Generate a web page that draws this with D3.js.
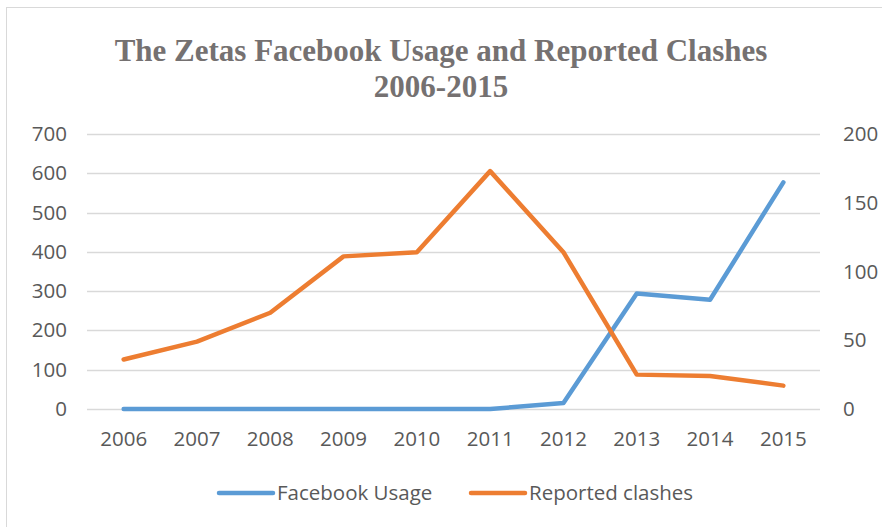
<!DOCTYPE html>
<html>
<head>
<meta charset="utf-8">
<title>The Zetas Facebook Usage and Reported Clashes</title>
<style>
  body { margin: 0; background: #fff; }
  .tick text { font-family: "Open Sans", "Liberation Sans", sans-serif; font-size: 20.5px; fill: #595959; }
  .title { font-family: "Liberation Serif", "DejaVu Serif", serif; font-weight: bold; font-size: 31px; fill: #757171; text-anchor: middle; }
  .legend text { font-family: "Open Sans", "Liberation Sans", sans-serif; font-size: 20.5px; fill: #595959; }
</style>
</head>
<body>
<svg width="882" height="527"></svg>
<script src="https://cdnjs.cloudflare.com/ajax/libs/d3/7.8.5/d3.min.js"></script>
<script>
var years = ["2006", "2007", "2008", "2009", "2010", "2011", "2012", "2013", "2014", "2015"];
var facebookUsage = [0, 0, 0, 0, 0, 0, 15, 294, 278, 577];
var reportedClashes = [36, 49, 70, 111, 114, 173, 114, 25, 24, 17];
var leftTicks = [0, 100, 200, 300, 400, 500, 600, 700];
var rightTicks = [0, 50, 100, 150, 200];

var svg = d3.select("svg");

// chart frame
svg.append("rect")
    .attr("x", 6.5).attr("y", 7.5)
    .attr("width", 882).attr("height", 530)
    .attr("fill", "#fff").attr("stroke", "#d9d9d9");

var margin = {left: 87, right: 62, top: 134, bottom: 118};
var width = 882 - margin.left - margin.right,
    height = 527 - margin.top - margin.bottom;

var x = d3.scaleBand().domain(years).range([0, width]);
var yLeft = d3.scaleLinear().domain([0, 700]).range([height, 0]);
var yRight = d3.scaleLinear().domain([0, 200]).range([height, 0]);

var g = svg.append("g").attr("transform", "translate(" + margin.left + "," + margin.top + ")");

// gridlines
g.selectAll(".grid")
    .data(leftTicks)
  .enter().append("line")
    .attr("x1", 0).attr("x2", width)
    .attr("y1", function(d) { return Math.round(yLeft(d)) + 0.5; })
    .attr("y2", function(d) { return Math.round(yLeft(d)) + 0.5; })
    .attr("stroke", "#d9d9d9").attr("stroke-width", 1.5);

var leftAxis = g.append("g")
    .call(d3.axisLeft(yLeft).tickValues(leftTicks).tickSize(0).tickPadding(20));
leftAxis.select(".domain").remove();

var rightAxis = g.append("g")
    .attr("transform", "translate(" + width + ",0)")
    .call(d3.axisRight(yRight).tickValues(rightTicks).tickSize(0).tickPadding(23));
rightAxis.select(".domain").remove();

var bottomAxis = g.append("g")
    .attr("transform", "translate(0," + height + ")")
    .call(d3.axisBottom(x).tickSize(0).tickPadding(22));
bottomAxis.select(".domain").remove();

var cx = function(d, i) { return x(years[i]) + x.bandwidth() / 2; };

var lineLeft = d3.line().x(cx).y(function(d) { return yLeft(d); });
var lineRight = d3.line().x(cx).y(function(d) { return yRight(d); });

g.append("path")
    .datum(facebookUsage)
    .attr("fill", "none").attr("stroke", "#5b9bd5")
    .attr("stroke-width", 4.5).attr("stroke-linecap", "round").attr("stroke-linejoin", "round")
    .attr("d", lineLeft);

g.append("path")
    .datum(reportedClashes)
    .attr("fill", "none").attr("stroke", "#ed7d31")
    .attr("stroke-width", 4.5).attr("stroke-linecap", "round").attr("stroke-linejoin", "round")
    .attr("d", lineRight);

// title
var title = svg.append("text").attr("class", "title").attr("x", 441);
title.append("tspan").attr("x", 441).attr("y", 61).text("The Zetas Facebook Usage and Reported Clashes");
title.append("tspan").attr("x", 441).attr("y", 97).text("2006-2015");

// legend
var legendItems = [
  {name: "Facebook Usage", color: "#5b9bd5", x: 219},
  {name: "Reported clashes", color: "#ed7d31", x: 471}
];
var legend = svg.append("g").attr("class", "legend");
var item = legend.selectAll("g").data(legendItems).enter().append("g")
    .attr("transform", function(d) { return "translate(" + d.x + ",493)"; });
item.append("line")
    .attr("x1", 0).attr("x2", 54).attr("y1", 0).attr("y2", 0)
    .attr("stroke", function(d) { return d.color; })
    .attr("stroke-width", 4.5).attr("stroke-linecap", "round");
item.append("text")
    .attr("x", 58).attr("y", 0).attr("dy", "0.35em")
    .text(function(d) { return d.name; });
</script>
</body>
</html>
